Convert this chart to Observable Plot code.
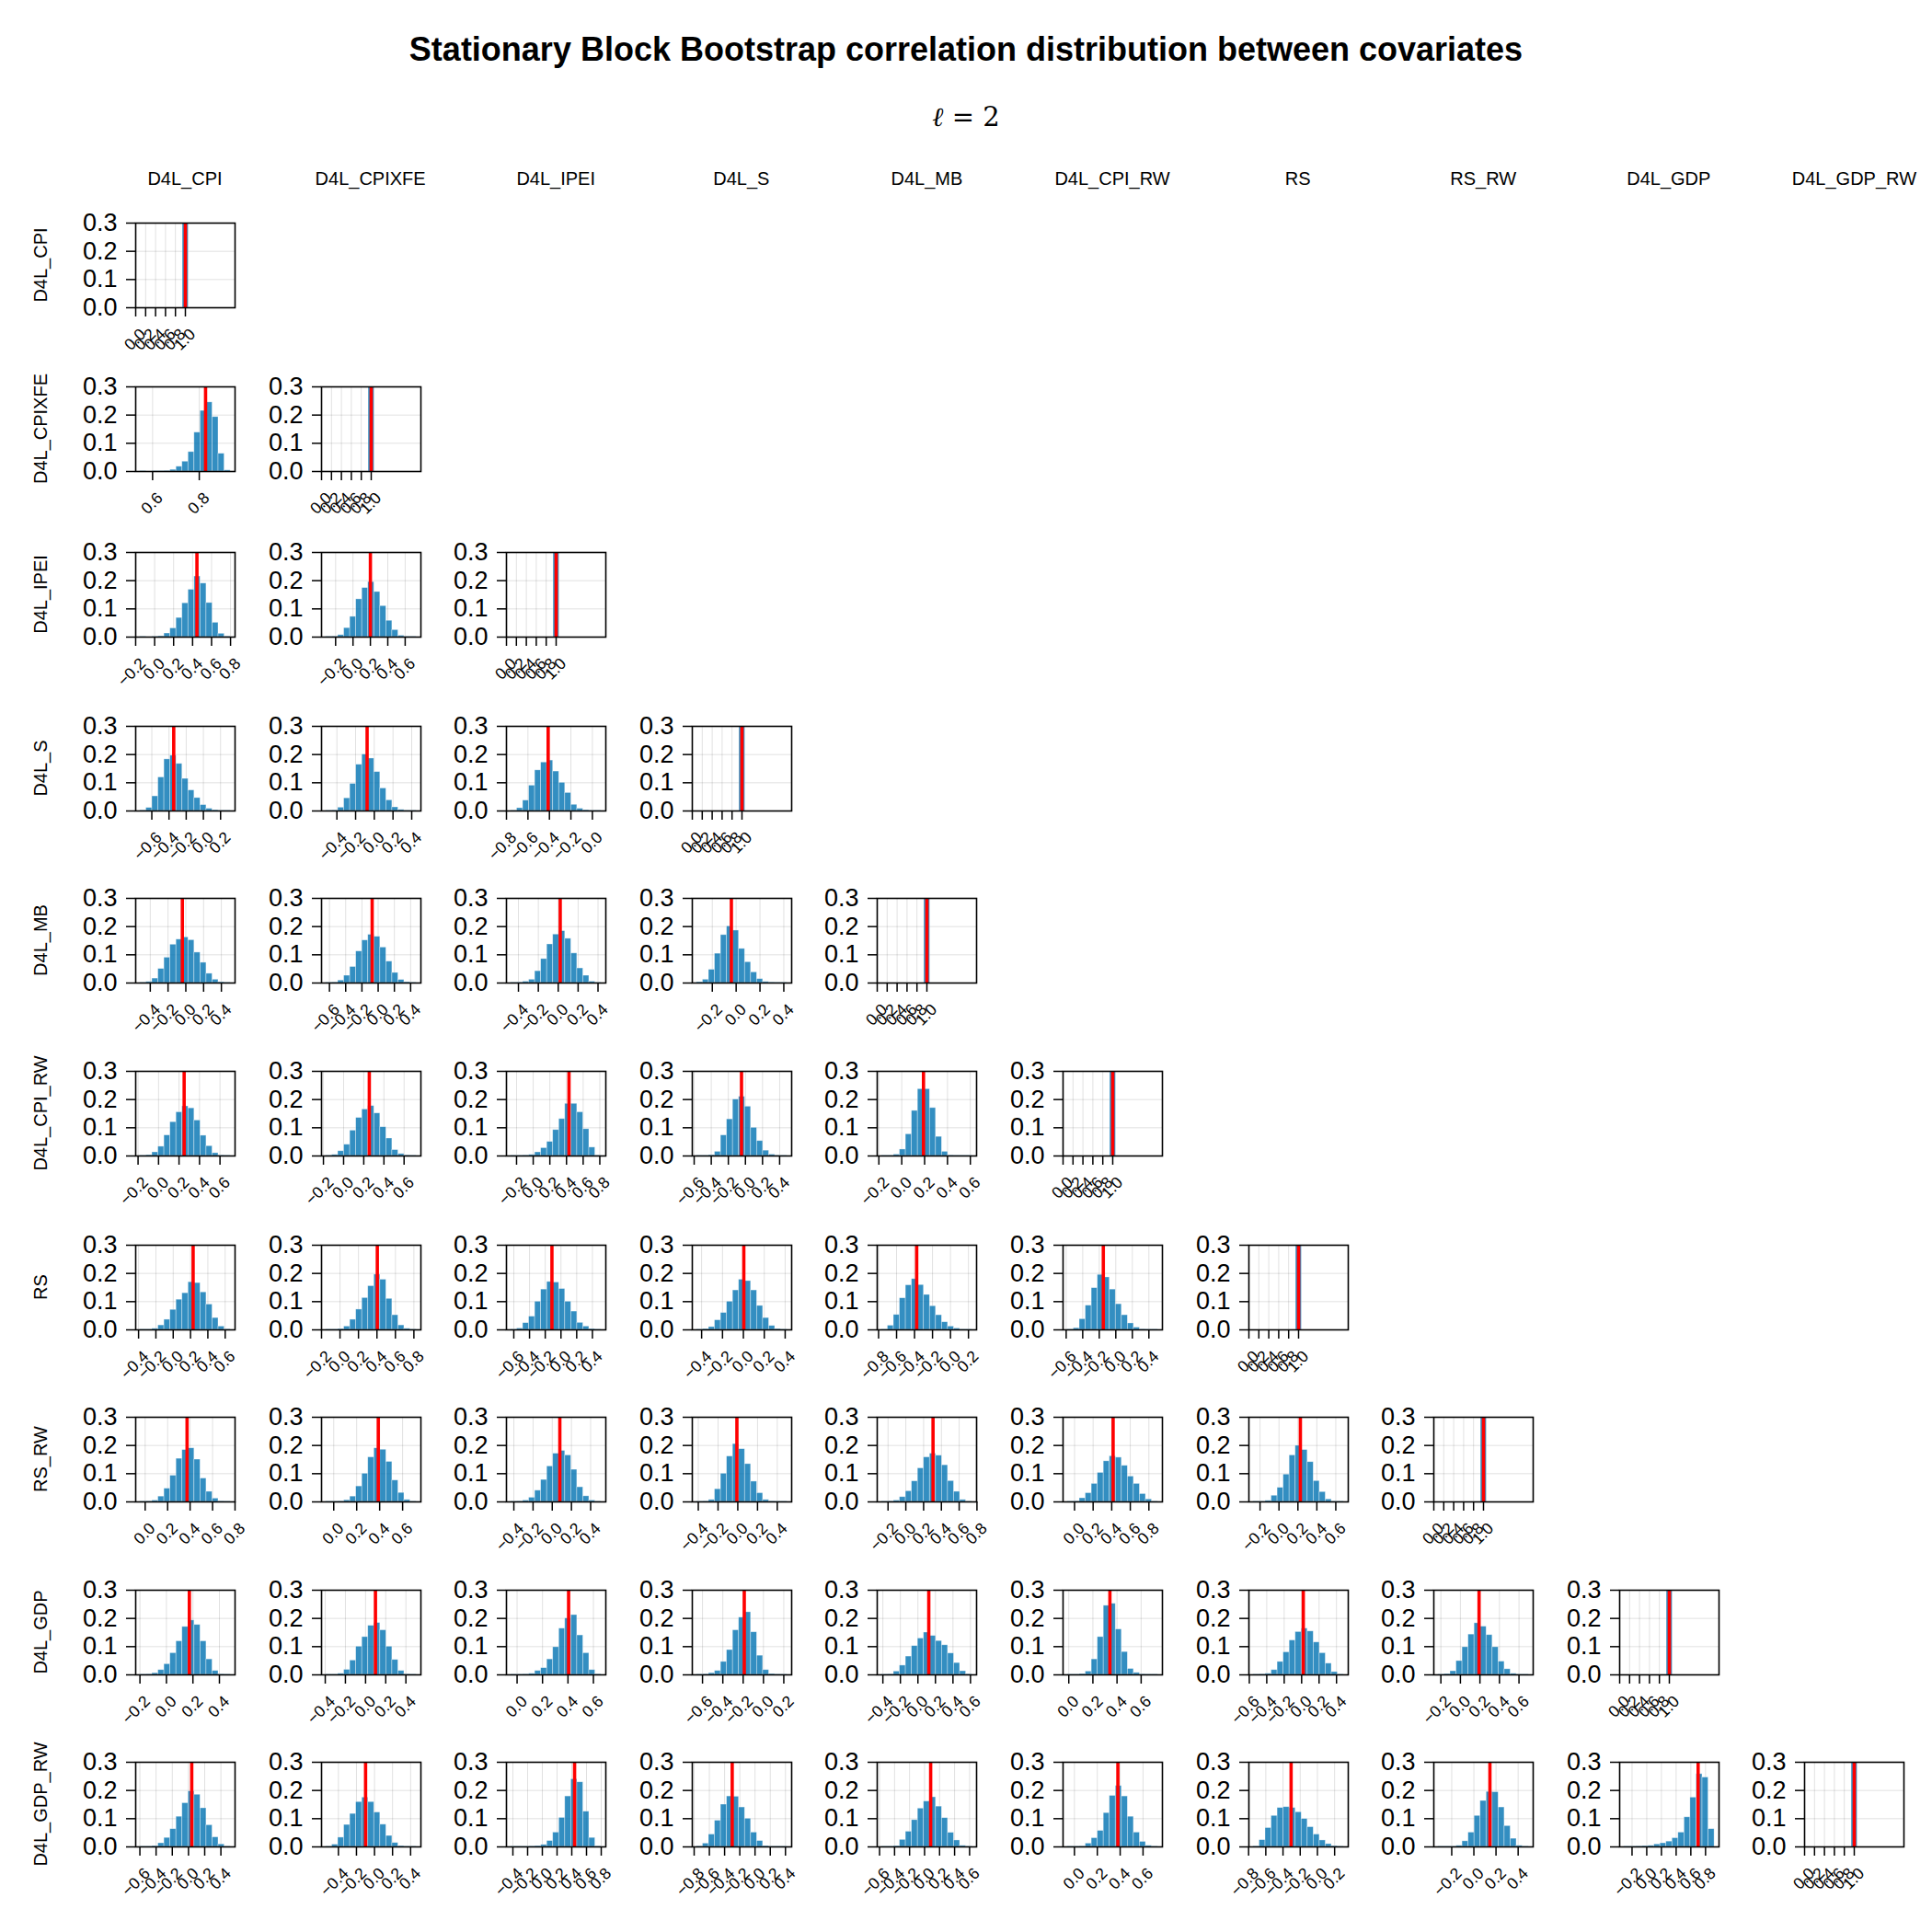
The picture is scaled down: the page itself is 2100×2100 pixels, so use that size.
<!DOCTYPE html>
<html>
<head>
<meta charset="utf-8">
<script src="https://cdn.jsdelivr.net/npm/d3@7"></script>
<script src="https://cdn.jsdelivr.net/npm/@observablehq/plot@0.6"></script>
<style>
  html, body { margin: 0; padding: 0; background: #fff; }
  #page { position: relative; width: 2100px; height: 2100px; background: #fff; overflow: hidden;
          font-family: "Liberation Sans", Arial, sans-serif; color: #000; }
  .title { position: absolute; left: 0; width: 2100px; top: 33px; line-height: 42px; text-align: center;
           font-weight: bold; font-size: 36px; }
  .subtitle { position: absolute; left: 0; width: 2100px; top: 108px; line-height: 38px; text-align: center;
              font-family: "DejaVu Serif", serif; font-size: 29px; }
  .collab { position: absolute; font-size: 20px; transform: translate(-50%, -50%); white-space: nowrap; }
  .rowlab { position: absolute; font-size: 20px; transform: translate(-50%, -50%) rotate(-90deg); white-space: nowrap; }
  .cell { position: absolute; }
  .cell svg { overflow: visible; background: transparent; }
</style>
</head>
<body>
<div id="page">
  <div class="title">Stationary Block Bootstrap correlation distribution between covariates</div>
  <div class="subtitle"><span style="font-style:italic">ℓ</span> = 2</div>
</div>
<script>
// ---------------- data ----------------
const variables = ["D4L_CPI", "D4L_CPIXFE", "D4L_IPEI", "D4L_S", "D4L_MB",
                   "D4L_CPI_RW", "RS", "RS_RW", "D4L_GDP", "D4L_GDP_RW"];

// lower-triangle pairs, row-major: (1,0), (2,0), (2,1), (3,0), ...
// first / last histogram bin edge (data range of bootstrap correlations)
const binLo = [ 0.547,
  -0.152, -0.310,
  -0.735, -0.516, -0.758,
  -0.513, -0.642, -0.475, -0.330,
  -0.179, -0.174, -0.267, -0.569, -0.175,
  -0.381, -0.151, -0.636, -0.446, -0.765, -0.583,
  -0.044, -0.067, -0.430, -0.415, -0.271, -0.075, -0.270,
  -0.198, -0.392, -0.048, -0.656, -0.413, -0.010, -0.553, -0.226,
  -0.596, -0.537, -0.426, -0.765, -0.571, -0.060, -0.744, -0.321, -0.307 ];
const binHi = [ 0.934,
  0.800, 0.729,
  0.316, 0.450, 0.083,
  0.503, 0.471, 0.433, 0.428,
  0.703, 0.722, 0.818, 0.488, 0.615,
  0.662, 0.827, 0.513, 0.419, 0.240, 0.509,
  0.760, 0.720, 0.511, 0.500, 0.745, 0.897, 0.684,
  0.484, 0.504, 0.662, 0.233, 0.618, 0.739, 0.483, 0.699,
  0.519, 0.464, 0.801, 0.422, 0.633, 0.730, 0.306, 0.495, 0.922 ];
// sample correlation (red line)
const observed = [ 0.827,
  0.446, 0.200,
  -0.345, -0.077, -0.412,
  -0.039, -0.074, 0.020, -0.040,
  0.250, 0.255, 0.430, -0.046, 0.190,
  0.230, 0.404, -0.115, 0.004, -0.376, -0.151,
  0.373, 0.388, 0.079, -0.009, 0.306, 0.415, 0.226,
  0.173, 0.098, 0.405, -0.189, 0.124, 0.341, 0.019, 0.191,
  0.040, -0.099, 0.438, -0.300, 0.081, 0.380, -0.306, 0.145, 0.699 ];
// probability of each of the 15 bins
const probs = [
  [0.001,0,0.001,0.001,0.002,0.006,0.017,0.035,0.069,0.138,0.215,0.245,0.193,0.063,0.004],
  [0.001,0,0.001,0.003,0.013,0.031,0.068,0.12,0.168,0.215,0.19,0.121,0.051,0.012,0.002],
  [0.001,0.002,0.007,0.032,0.072,0.134,0.174,0.195,0.16,0.11,0.058,0.025,0.005,0.001,0.001],
  [0.002,0.011,0.052,0.119,0.183,0.196,0.167,0.114,0.073,0.046,0.021,0.008,0.003,0.001,0.001],
  [0.001,0.002,0.012,0.045,0.096,0.164,0.2,0.186,0.138,0.08,0.038,0.013,0.004,0.001,0.001],
  [0.001,0.01,0.037,0.09,0.144,0.172,0.179,0.14,0.1,0.064,0.022,0.008,0.003,0.001,0.001],
  [0.001,0.004,0.016,0.05,0.09,0.136,0.154,0.162,0.152,0.108,0.072,0.033,0.012,0.003,0.001],
  [0.001,0.002,0.009,0.026,0.057,0.112,0.151,0.171,0.164,0.126,0.076,0.036,0.011,0.003,0.001],
  [0.001,0.002,0.005,0.012,0.042,0.085,0.137,0.172,0.184,0.157,0.105,0.052,0.026,0.005,0.001],
  [0.003,0.012,0.047,0.104,0.17,0.201,0.186,0.121,0.074,0.038,0.014,0.004,0.002,0.001,0.001],
  [0.001,0.003,0.013,0.033,0.073,0.12,0.155,0.176,0.169,0.126,0.072,0.035,0.01,0.002,0.001],
  [0.001,0.004,0.017,0.04,0.09,0.135,0.165,0.177,0.151,0.102,0.062,0.021,0.007,0.002,0.001],
  [0.001,0.001,0.002,0.004,0.013,0.028,0.05,0.092,0.131,0.185,0.185,0.155,0.095,0.03,0.001],
  [0.001,0.001,0.003,0.015,0.073,0.13,0.2,0.21,0.175,0.1,0.053,0.019,0.005,0.001,0.001],
  [0.001,0.001,0.005,0.023,0.077,0.16,0.237,0.237,0.17,0.068,0.015,0.002,0.001,0.001,0.001],
  [0.001,0.001,0.004,0.016,0.036,0.071,0.107,0.13,0.169,0.166,0.133,0.09,0.042,0.012,0.002],
  [0.001,0.001,0.003,0.012,0.036,0.072,0.113,0.155,0.196,0.178,0.11,0.052,0.016,0.004,0.001],
  [0.001,0.005,0.024,0.047,0.1,0.143,0.17,0.168,0.145,0.1,0.065,0.025,0.012,0.003,0.001],
  [0.001,0.003,0.01,0.034,0.06,0.1,0.14,0.178,0.173,0.14,0.085,0.042,0.014,0.003,0.001],
  [0.001,0.015,0.053,0.112,0.158,0.18,0.159,0.124,0.084,0.052,0.027,0.012,0.005,0.001,0.001],
  [0.001,0.006,0.038,0.086,0.148,0.195,0.186,0.143,0.091,0.052,0.023,0.008,0.002,0.001,0.001],
  [0.001,0.002,0.005,0.019,0.047,0.093,0.153,0.184,0.19,0.15,0.083,0.036,0.012,0.002,0.001],
  [0.001,0.001,0.002,0.006,0.019,0.055,0.1,0.158,0.19,0.185,0.142,0.076,0.032,0.007,0.001],
  [0.001,0.002,0.005,0.015,0.04,0.078,0.126,0.171,0.181,0.165,0.114,0.052,0.02,0.005,0.001],
  [0.001,0.002,0.007,0.045,0.1,0.161,0.205,0.187,0.134,0.072,0.031,0.007,0.002,0.001,0.001],
  [0.001,0.002,0.005,0.017,0.038,0.073,0.119,0.158,0.171,0.164,0.13,0.074,0.036,0.007,0.001],
  [0.001,0.002,0.013,0.031,0.064,0.103,0.144,0.162,0.157,0.128,0.09,0.064,0.028,0.009,0.001],
  [0.001,0.001,0.004,0.022,0.05,0.097,0.165,0.199,0.184,0.141,0.074,0.035,0.009,0.001,0.001],
  [0.001,0.002,0.006,0.017,0.038,0.077,0.119,0.17,0.193,0.177,0.119,0.055,0.014,0.002,0.001],
  [0.001,0.001,0.004,0.018,0.051,0.1,0.134,0.174,0.184,0.158,0.1,0.053,0.014,0.002,0.001],
  [0.001,0.001,0.002,0.004,0.014,0.024,0.055,0.098,0.164,0.2,0.212,0.14,0.077,0.017,0.002],
  [0.001,0.002,0.006,0.014,0.046,0.088,0.158,0.203,0.222,0.151,0.068,0.017,0.003,0.001,0.001],
  [0.001,0.002,0.012,0.033,0.065,0.102,0.129,0.15,0.138,0.12,0.105,0.076,0.042,0.013,0.002],
  [0.001,0.001,0.003,0.012,0.055,0.134,0.245,0.252,0.161,0.081,0.021,0.007,0.002,0.001,0.001],
  [0.001,0.002,0.004,0.017,0.046,0.08,0.122,0.152,0.164,0.154,0.115,0.077,0.04,0.01,0.001],
  [0.001,0.003,0.013,0.049,0.098,0.143,0.183,0.171,0.141,0.098,0.047,0.02,0.004,0.001,0.001],
  [0.001,0.001,0.003,0.013,0.032,0.063,0.107,0.155,0.197,0.185,0.137,0.077,0.034,0.009,0.001],
  [0.001,0.008,0.033,0.078,0.117,0.159,0.175,0.159,0.122,0.079,0.039,0.014,0.003,0.001,0.001],
  [0.001,0.001,0.001,0.002,0.003,0.007,0.021,0.051,0.103,0.179,0.24,0.229,0.125,0.032,0.002],
  [0.002,0.012,0.044,0.093,0.15,0.179,0.178,0.14,0.1,0.051,0.021,0.003,0.001,0.001,0.001],
  [0.001,0.001,0.003,0.025,0.054,0.095,0.136,0.161,0.176,0.143,0.102,0.05,0.023,0.004,0.001],
  [0.001,0.001,0.002,0.012,0.031,0.057,0.12,0.181,0.216,0.179,0.107,0.051,0.018,0.004,0.001],
  [0.002,0.024,0.067,0.11,0.138,0.141,0.138,0.123,0.099,0.07,0.044,0.023,0.01,0.003,0.001],
  [0.001,0.001,0.001,0.004,0.02,0.051,0.11,0.163,0.195,0.194,0.14,0.074,0.029,0.004,0.001],
  [0.001,0.001,0.002,0.003,0.004,0.009,0.013,0.019,0.031,0.051,0.105,0.175,0.258,0.246,0.063]
];
// diagonal: self-correlation
const diagValue = 1.0;
const diagBin = [0.945, 1.065];
const diagProb = 1.0;
const diagTicks = [0.0, 0.2, 0.4, 0.6, 0.8, 1.0];
const yTicks = [0.0, 0.1, 0.2, 0.3];
const xTickStep = 0.2;

// ---------------- layout ----------------
const colLeft = d3.range(10).map(c => 147 + 201.6 * c);
const rowTop = [242, 420, 600, 789, 976, 1164, 1353, 1540, 1728, 1915];
const FW = 108, FH = 92, ML = 70, MT = 20, MR = 30, MB = 80;
const fmt = d3.format(".1f");
const page = document.getElementById("page");

function cellPlot(bins, domain, xticks, obs) {
  return Plot.plot({
    width: ML + FW + MR, height: MT + FH + MB,
    marginLeft: ML, marginTop: MT, marginRight: MR, marginBottom: MB,
    style: {background: "transparent", overflow: "visible",
            fontFamily: "Liberation Sans, Arial, sans-serif", color: "black"},
    x: {domain},
    y: {domain: [0, 0.3]},
    marks: [
      Plot.gridX(xticks, {stroke: "black", strokeOpacity: 0.12, strokeWidth: 1}),
      Plot.gridY(yTicks, {stroke: "black", strokeOpacity: 0.12, strokeWidth: 1}),
      Plot.rectY(bins, {x1: "x1", x2: "x2", y: "p", fill: "#0072B2", fillOpacity: 0.8,
                        stroke: "#ffffff", strokeOpacity: 0.5, strokeWidth: 0.7, clip: true}),
      Plot.ruleX([obs], {stroke: "#ff0000", strokeWidth: 3.6}),
      Plot.frame({stroke: "black", strokeWidth: 1.6}),
      Plot.axisY(yTicks, {tickSize: 10, tickPadding: 10, fontSize: 27, tickFormat: fmt,
                          strokeWidth: 1.5, label: null}),
      Plot.axisX(xticks, {tickSize: 10, tickFormat: () => "", strokeWidth: 1.5, label: null}),
      Plot.text(xticks, {x: d => d, text: d => fmt(d), frameAnchor: "bottom", rotate: -45,
                         textAnchor: "end", lineAnchor: "middle", dx: 8, dy: 26, fontSize: 17.5})
    ]
  });
}

function place(node, r, c) {
  const d = document.createElement("div");
  d.className = "cell";
  d.style.left = (colLeft[c] - ML) + "px";
  d.style.top = (rowTop[r] - MT) + "px";
  d.appendChild(node);
  page.appendChild(d);
}

// column and row labels
variables.forEach((v, i) => {
  const cl = document.createElement("div");
  cl.className = "collab"; cl.textContent = v;
  cl.style.left = (colLeft[i] + FW / 2) + "px"; cl.style.top = "194px";
  page.appendChild(cl);
  const rl = document.createElement("div");
  rl.className = "rowlab"; rl.textContent = v;
  rl.style.left = "44px"; rl.style.top = (rowTop[i] + FH / 2) + "px";
  page.appendChild(rl);
});

// off-diagonal histograms
let k = 0;
for (let r = 1; r < 10; r++) {
  for (let c = 0; c < r; c++, k++) {
    const lo = binLo[k], hi = binHi[k], p = probs[k], w = (hi - lo) / p.length;
    const bins = p.map((v, i) => ({x1: lo + i * w, x2: lo + (i + 1) * w, p: v}));
    const pad = 0.05 * (hi - lo);
    const domain = [lo - pad, hi + pad];
    const k0 = Math.ceil((domain[0] - 0.01) / xTickStep), k1 = Math.floor((domain[1] + 0.01) / xTickStep);
    const xt = d3.range(k0, k1 + 1).map(j => Math.round(j * xTickStep * 10) / 10);
    place(cellPlot(bins, domain, xt, observed[k]), r, c);
  }
}
// diagonal
for (let i = 0; i < 10; i++) {
  const bins = [{x1: diagBin[0], x2: diagBin[1], p: diagProb}];
  place(cellPlot(bins, [diagValue - 1, diagValue + 1], diagTicks, diagValue), i, i);
}
</script>
</body>
</html>
